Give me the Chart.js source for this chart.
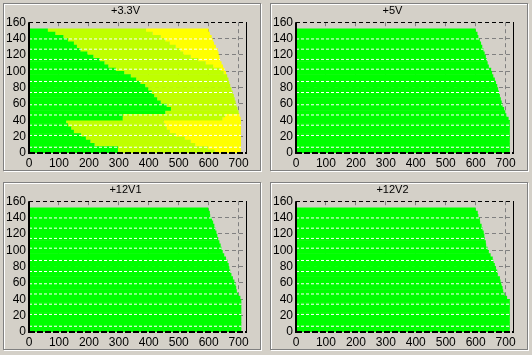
<!DOCTYPE html>
<html><head><meta charset="utf-8">
<script src="https://cdn.jsdelivr.net/npm/chart.js@4.4.0/dist/chart.umd.min.js"></script>
<style>
html,body{margin:0;padding:0;background:#D4D0C8;width:532px;height:355px;overflow:hidden;}
.panel{position:absolute;box-sizing:border-box;border:1px solid #808080;box-shadow:inset 1px 1px 0 #fff,1px 1px 0 #fff;}
.panel canvas{position:absolute;left:0;top:0;}
</style></head><body>
<div class="panel" style="left:3px;top:3px;width:258px;height:168px"><canvas id="c0" width="256" height="166"></canvas></div>
<div class="panel" style="left:270px;top:3px;width:258px;height:168px"><canvas id="c1" width="256" height="166"></canvas></div>
<div class="panel" style="left:3px;top:182px;width:258px;height:168px"><canvas id="c2" width="256" height="166"></canvas></div>
<div class="panel" style="left:270px;top:182px;width:258px;height:168px"><canvas id="c3" width="256" height="166"></canvas></div>
<script>
// Row centres (load on the vertical axis), bottom to top
const rowY = [2,6,10,14,18,22,26,30,34,38,42,46,50,54,58,62,66,70,74,78,82,86,90,94,98,102,106,110,114,118,122,126,130,134,138,142,146,150];
// +3.3V panel: end of green, end of yellow-green, outer edge (yellow end)
const green33 = [297,297,219,205,190,174,150,141,130,124,313,313,455,474,460,440,428,418,410,398,388,372,358,340,318,290,265,252,236,215,195,172,160,150,130,115,88,63];
const yg33    = [620,597,555,540,520,490,470,460,455,450,646,655,700,696,693,690,687,684,680,676,672,669,666,662,650,640,615,590,565,540,515,505,490,470,455,440,413,391];
const edge33  = [708,708,708,708,708,708,708,708,708,708,707,703,700,696,693,690,687,684,680,676,672,669,666,662,658,653,648,643,638,636,633,630,624,618,614,610,604,600];
// +5V, +12V1, +12V2 outer edges
const edge5   = [714,714,714,714,714,714,714,714,714,714,710,703,699,695,690,687,684,681,678,675,672,668,664,659,655,652,644,640,637,634,630,626,622,618,614,609,606,600];
const edge12a = [709,709,709,709,709,709,709,709,709,709,706,699,694,692,690,686,681,676,672,669,667,663,658,652,647,643,640,636,632,629,626,622,619,615,611,605,604,599];
const edge12b = [714,714,714,714,714,714,714,714,714,714,705,697,692,690,687,683,681,674,672,668,664,660,657,650,644,640,635,634,630,629,627,623,620,615,614,609,607,600];
// White dashed row separators
const sepY = [7,21.5,34,46.5,59,74,87.5,102.5,114.5,127,139.5];
const titles = ['+3.3V','+5V','+12V1','+12V2'];
const xTicks = [0,100,200,300,400,500,600,700];
const yTicks = [0,20,40,60,80,100,120,140,160];

const GREEN = '#00FF00', YGREEN = '#BFFF00', YELLOW = '#FFFF00';
Chart.defaults.font.family = "'Liberation Sans', Arial, sans-serif";
Chart.defaults.font.size = 12;
Chart.defaults.color = '#000';

const framePlugin = {
  id: 'frame',
  afterDatasetsDraw(chart) {
    const {ctx, chartArea: a} = chart;
    ctx.save();
    ctx.strokeStyle = '#000';
    ctx.lineWidth = 1;
    ctx.setLineDash([4, 3]);
    ctx.beginPath(); ctx.moveTo(a.left, Math.round(a.top) + 0.5); ctx.lineTo(a.right, Math.round(a.top) + 0.5); ctx.stroke();
    ctx.setLineDash([]);
    ctx.beginPath(); ctx.moveTo(Math.round(a.right) - 0.5, a.top); ctx.lineTo(Math.round(a.right) - 0.5, a.bottom); ctx.stroke();
    ctx.lineWidth = 2;
    ctx.setLineDash([6, 2]);
    ctx.beginPath(); ctx.moveTo(a.left, Math.round(a.bottom)); ctx.lineTo(a.right, Math.round(a.bottom)); ctx.stroke();
    ctx.setLineDash([]);
    ctx.beginPath(); ctx.moveTo(Math.round(a.left), a.top); ctx.lineTo(Math.round(a.left), a.bottom + 1); ctx.stroke();
    ctx.restore();
  }
};

function sepData(edge) {
  const d = [];
  sepY.forEach(y => {
    const i = Math.min(rowY.length - 1, Math.floor(y / 4));
    d.push({x: 0, y: y}, {x: edge[i], y: y}, {x: edge[i], y: null});
  });
  return d;
}

function makeChart(id, title, segs, edge) {
  const datasets = [{
    type: 'line', indexAxis: 'x', data: sepData(edge), borderColor: '#FFFFFF', borderWidth: 1,
    borderDash: [3, 2], pointRadius: 0, fill: false, spanGaps: false, order: 0
  }];
  segs.forEach(s => datasets.push({
    type: 'bar', indexAxis: 'y', data: rowY.map((y, i) => ({y: y, x: [s.from[i], s.to[i]]})),
    backgroundColor: s.color, borderWidth: 0, grouped: false, barPercentage: 1.15, categoryPercentage: 1, order: 1
  }));
  const gridColor = edgeVals => c => (c.tick && edgeVals.includes(c.tick.value)) ? 'rgba(0,0,0,0)' : '#808080';
  new Chart(document.getElementById(id), {
    type: 'bar',
    data: {datasets},
    options: {
      responsive: false, animation: false, events: [],
      layout: {padding: {left: 0, right: 13, top: 0, bottom: 0}},
      plugins: {
        legend: {display: false}, tooltip: {enabled: false},
        title: {display: true, text: title, color: '#000', font: {size: 11, weight: 'normal'}, padding: {top: 0, bottom: 5}}
      },
      scales: {
        x: {
          type: 'linear', min: 0, max: 728, offset: false,
          grid: {offset: false, color: gridColor([0]), drawTicks: false, lineWidth: 1},
          border: {display: false, dash: [4, 3]},
          ticks: {stepSize: 100, padding: 3, maxRotation: 0, autoSkip: false},
          afterBuildTicks: s => { s.ticks = xTicks.map(v => ({value: v})); },
          afterFit: s => { s.height = 17; }
        },
        y: {
          type: 'linear', min: 0, max: 160, offset: false,
          grid: {offset: false, color: gridColor([0, 160]), drawTicks: false, lineWidth: 1},
          border: {display: false, dash: [4, 3]},
          ticks: {stepSize: 20, padding: 3, autoSkip: false},
          afterBuildTicks: s => { s.ticks = yTicks.map(v => ({value: v})); },
          afterFit: s => { s.width = 25; }
        }
      }
    },
    plugins: [framePlugin]
  });
}

const zeros = rowY.map(() => 0);
makeChart('c0', titles[0], [
  {from: zeros, to: green33, color: GREEN},
  {from: green33, to: yg33, color: YGREEN},
  {from: yg33, to: edge33, color: YELLOW}
], edge33);
makeChart('c1', titles[1], [{from: zeros, to: edge5, color: GREEN}], edge5);
makeChart('c2', titles[2], [{from: zeros, to: edge12a, color: GREEN}], edge12a);
makeChart('c3', titles[3], [{from: zeros, to: edge12b, color: GREEN}], edge12b);
</script>
</body></html>
